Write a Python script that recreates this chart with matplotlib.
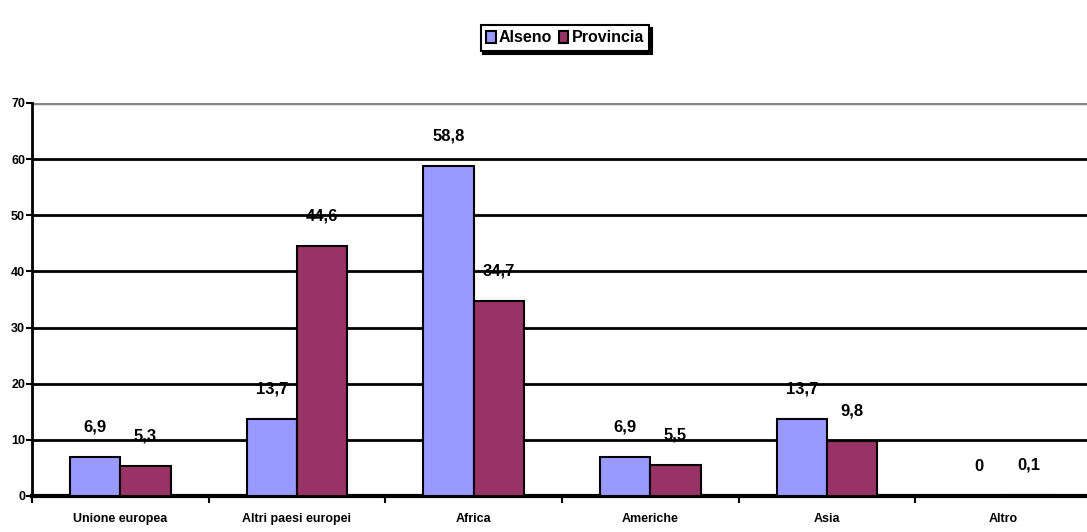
import numpy as np
import matplotlib.pyplot as plt

# dati
categorie = ['Unione europea', 'Altri paesi europei', 'Africa', 'Americhe', 'Asia', 'Altro']
alseno = [6.9, 13.7, 58.8, 6.9, 13.7, 0]
provincia = [5.3, 44.6, 34.7, 5.5, 9.8, 0.1]
serie = ['Alseno', 'Provincia']
colori = ['#9999FF', '#993366']

plt.rcParams['font.family'] = ['Liberation Sans Narrow', 'Liberation Sans', 'DejaVu Sans']
plt.rcParams['font.weight'] = 'bold'

fig = plt.figure(figsize=(10.87, 5.32), dpi=100)
ax = fig.add_axes([32/1087, 36/532, 1060/1087, 393/532])

x = np.arange(len(categorie))
w = 0.285

ax.bar(x - w/2, alseno, w, color=colori[0], edgecolor='black', linewidth=1.5, label=serie[0], zorder=3)
ax.bar(x + w/2, provincia, w, color=colori[1], edgecolor='black', linewidth=1.5, label=serie[1], zorder=3)

def fmt(v):
    return ('%g' % v).replace('.', ',')

for i in range(len(categorie)):
    ax.text(x[i] - w/2, alseno[i] + 4.0, fmt(alseno[i]), ha='center', va='bottom',
            fontsize=12, fontweight='bold', zorder=4)
    ax.text(x[i] + w/2, provincia[i] + 4.0, fmt(provincia[i]), ha='center', va='bottom',
            fontsize=12, fontweight='bold', zorder=4)

ax.set_xlim(-0.5, len(categorie) - 0.5)
ax.set_ylim(0, 70)
ax.set_yticks(range(0, 71, 10))
ax.tick_params(axis='y', labelsize=9, length=4, width=1.5, pad=1)

# griglia
for yv in range(10, 70, 10):
    ax.axhline(yv, color='black', linewidth=2, zorder=1)
ax.axhline(70, color='#888888', linewidth=2.5, zorder=1)

ax.set_xticks(x)
ax.set_xticklabels(categorie, fontsize=9)
ax.tick_params(axis='x', length=0, pad=12)
ax.set_xticks(np.arange(-0.5, len(categorie), 1), minor=True)
ax.tick_params(axis='x', which='minor', length=5, width=1.5)

for s in ['top', 'right']:
    ax.spines[s].set_visible(False)
ax.spines['left'].set_linewidth(2)
ax.spines['bottom'].set_linewidth(3)

leg = fig.legend(loc='center', bbox_to_anchor=(565/1087, 1 - 38/532), ncol=2,
                 frameon=True, fancybox=False, edgecolor='black', fontsize=11.5,
                 handlelength=0.6, handleheight=0.8, handletextpad=0.2,
                 columnspacing=0.4, borderpad=0.35, shadow={'color': 'black', 'alpha': 1})
leg.get_frame().set_linewidth(1.5)

fig.savefig('out.png', dpi=100)
